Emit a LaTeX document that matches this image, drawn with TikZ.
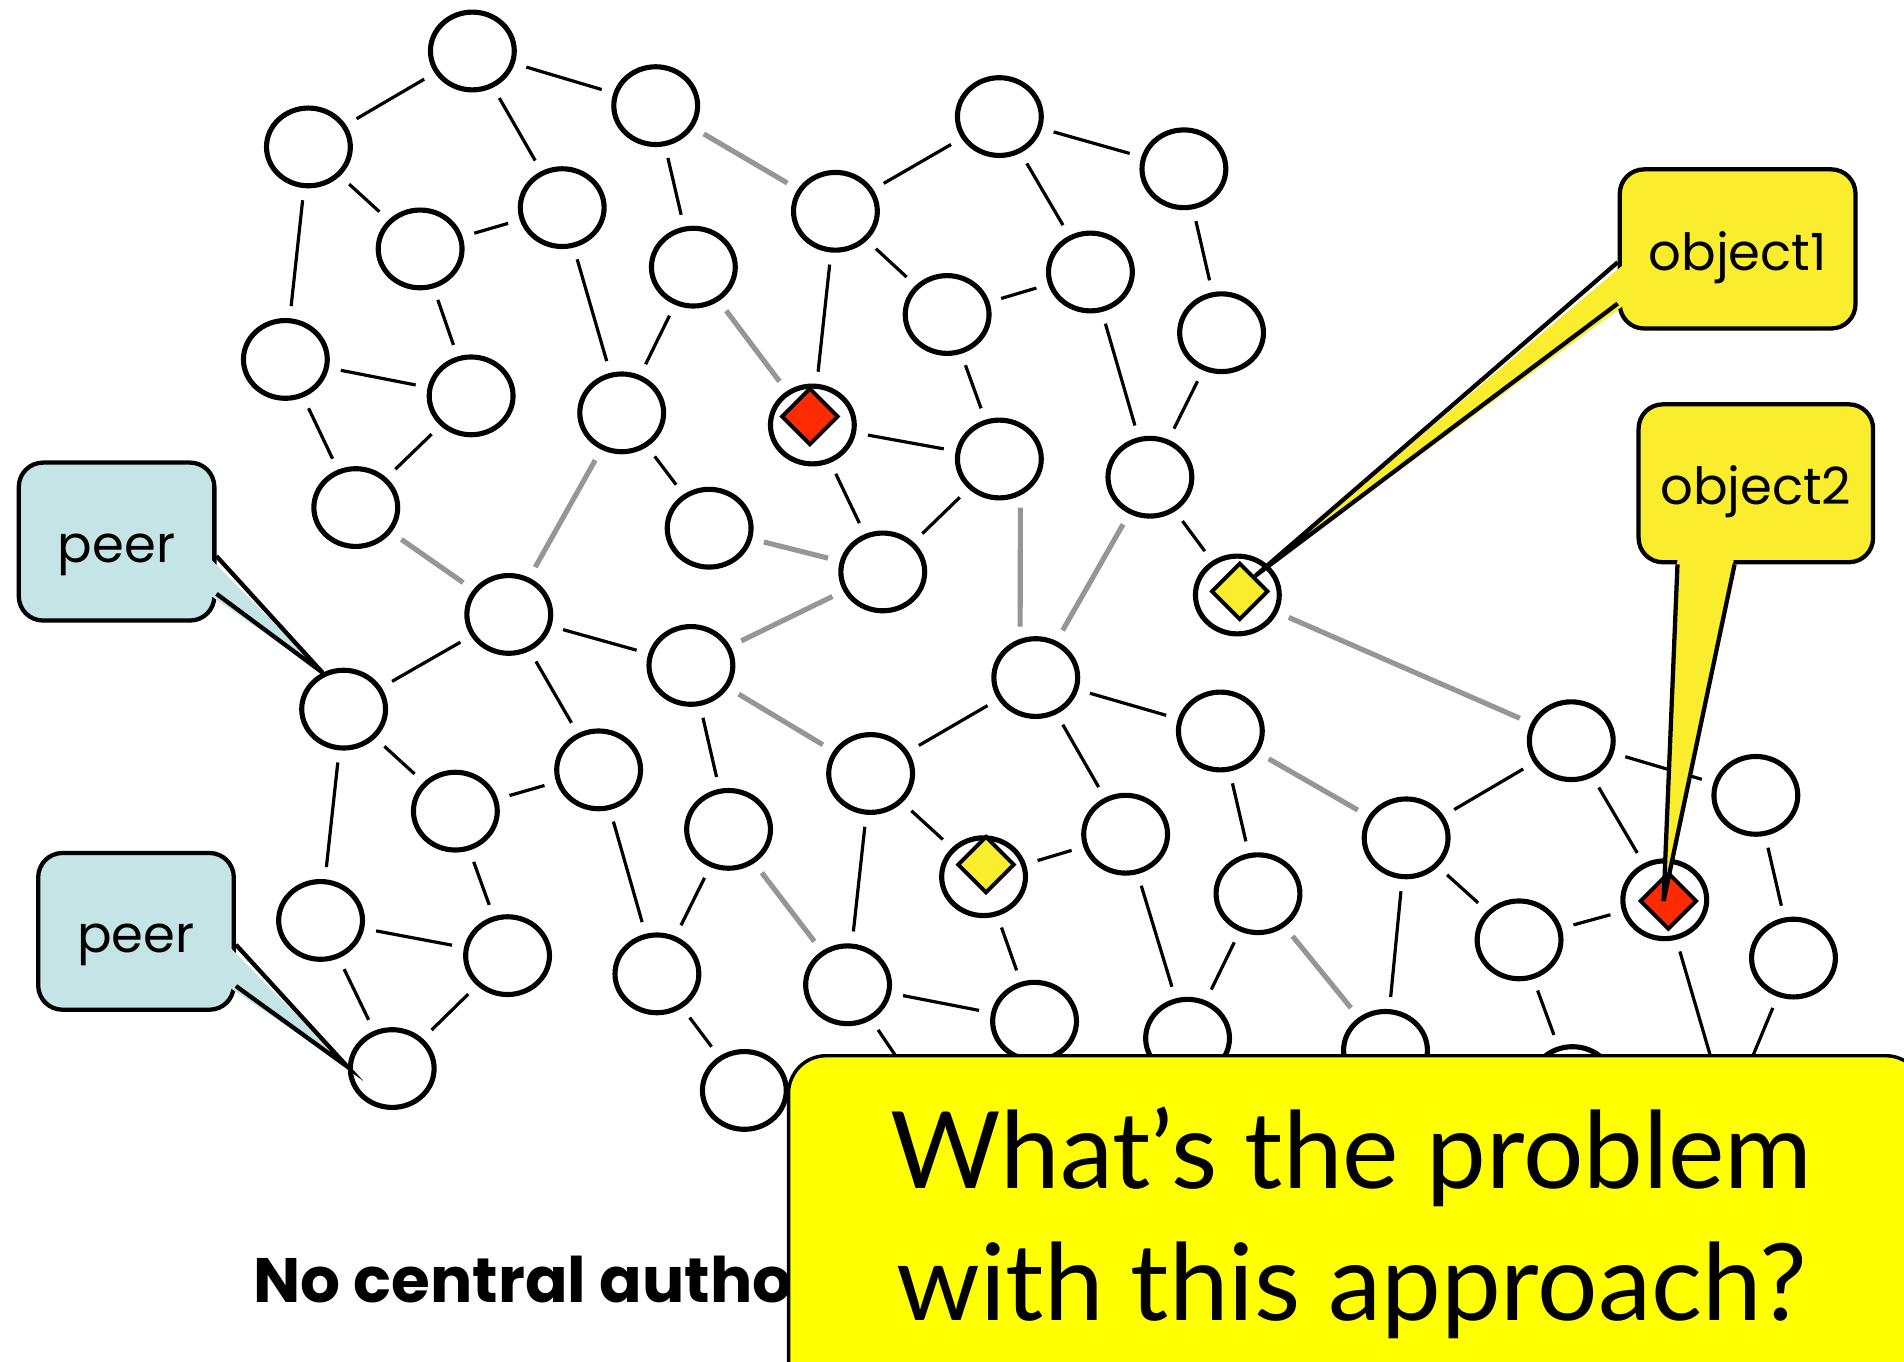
\documentclass[tikz,border=0pt]{standalone}
\usepackage{fontspec}
\setmainfont{Poppins}
\newfontfamily\gillfont{Lato}
\usetikzlibrary{shapes.geometric, positioning}

\definecolor{peerblue}{RGB}{196,228,230}
\definecolor{objyellow}{RGB}{250,237,45}
\definecolor{askyellow}{RGB}{255,255,0}
\definecolor{objred}{RGB}{255,42,0}
\definecolor{linkgray}{RGB}{150,150,150}

\begin{document}
\begin{tikzpicture}[x=0.01cm, y=-0.01cm,
  host/.style={ellipse, draw, line width=1.2pt, minimum width=0.69cm, minimum height=0.64cm, inner sep=0pt, fill=white},
  link/.style={line width=0.75pt, shorten >=0.1cm, shorten <=0.1cm},
  weak/.style={link, draw=linkgray, line width=1.2pt},
  item/.style={diamond, draw, line width=0.9pt, minimum width=0.47cm, minimum height=0.47cm, inner sep=0pt},
  tag/.style={draw, line width=1pt, rounded corners=0.2cm, text height=10pt, text depth=0pt, font=\fontsize{12}{14}\selectfont}
]
\useasboundingbox (0,0) rectangle (1568,1121);

% peers
\foreach \id/\x/\y in {1/389/42, 2/254/121, 3/540/87, 4/463/171, 5/346/205, 6/571/220,
  7/688/174, 8/823/96, 9/975/139, 10/898/224, 11/780/259, 12/1006/274,
  13/235/296, 14/388/326, 15/512/340, 16/669/350, 17/823/378, 18/947/393,
  19/293/418, 20/584/435, 21/727/471, 22/1019/490, 23/419/506, 24/569/548,
  25/853/558, 26/283/584, 27/1005/602, 28/1294/610, 29/493/634, 30/717/637,
  31/1446/655, 32/375/668, 33/600/683, 34/927/687, 35/1158/690, 36/810/722,
  37/1036/736, 38/1371/741, 39/264/758, 40/418/787, 41/1251/774, 42/1477/789,
  43/541/802, 44/698/811, 45/852/841, 46/323/880, 47/978/855, 48/1141/865,
  49/1295/894, 50/613/898, 51/1423/919, 52/765/910}
  \node[host] (n\id) at (\x,\y) {};

% overlay links
\foreach \a/\b in {1/2, 1/3, 1/4, 3/6, 2/5, 5/4, 2/13, 5/14, 4/15, 6/15, 7/16, 7/8,
  7/11, 8/9, 8/10, 11/10, 9/12, 13/14, 13/19, 14/19, 11/17, 10/18, 12/18, 16/17,
  15/20, 16/21, 17/21, 18/22, 23/26, 23/24, 23/29, 26/32, 26/39, 24/33, 25/30,
  25/27, 25/34, 27/37, 28/35, 28/31, 28/38, 29/32, 29/43, 30/36, 30/44, 33/43,
  36/34, 36/45, 34/47, 37/47, 35/41, 35/48, 41/38, 41/49, 31/42, 38/51, 42/51,
  32/40, 39/40, 39/46, 40/46, 43/50, 44/45, 44/52}
  \draw[link] (n\a) -- (n\b);

% long-range links
\foreach \a/\b in {3/7, 6/16, 15/23, 19/23, 20/21, 18/25, 21/24, 22/28,
  24/30, 27/35, 33/44, 37/48}
  \draw[weak] (n\a) -- (n\b);
\draw[weak] (n17.-60) -- (n25.112);

% stored objects
\node[item, fill=objred] (d16) at (667,343) {};
\node[item, fill=objyellow] (d22) at (1021,487) {};
\node[item, fill=objyellow] (d36) at (812,712) {};
\node[item, fill=objred] (d38) at (1374,742) {};

% callouts
\node[tag, fill=peerblue, minimum width=1.61cm, minimum height=1.30cm] (peerA) at (96,446) {peer};
\fill[peerblue] ([xshift=-2pt,yshift=-0.12cm]peerA.east) -- (n26.120) -- ([xshift=-2pt,yshift=-0.43cm]peerA.east) -- cycle;
\draw[line width=1pt] ([yshift=-0.12cm]peerA.east) -- (n26.120) -- ([yshift=-0.43cm]peerA.east);

\node[tag, fill=peerblue, minimum width=1.61cm, minimum height=1.29cm] (peerB) at (112,767) {peer};
\fill[peerblue] ([xshift=-2pt,yshift=-0.11cm]peerB.east) -- (n46.178) -- ([xshift=-2pt,yshift=-0.45cm]peerB.east) -- cycle;
\draw[line width=1pt] ([yshift=-0.11cm]peerB.east) -- (n46.178) -- ([yshift=-0.45cm]peerB.east);

\node[tag, fill=objyellow, minimum width=1.94cm, minimum height=1.31cm] (objA) at (1431,205) {object1};
\fill[objyellow] ([xshift=2pt,yshift=-0.11cm]objA.west) -- (d22.north east) -- ([xshift=2pt,yshift=-0.45cm]objA.west) -- cycle;
\draw[line width=1pt] ([yshift=-0.11cm]objA.west) -- (d22.north east) -- ([yshift=-0.45cm]objA.west);

\node[tag, fill=objyellow, minimum width=1.93cm, minimum height=1.30cm] (objB) at (1446,398) {object2};
\fill[objyellow] ([xshift=-0.645cm,yshift=2pt]objB.south) -- ([xshift=-0.04cm]d38.center) -- ([xshift=-0.175cm,yshift=2pt]objB.south) -- cycle;
\draw[line width=1pt] ([xshift=-0.645cm]objB.south) -- ([xshift=-0.04cm]d38.center) -- ([xshift=-0.175cm]objB.south);

% caption and question
\node[font=\bfseries\fontsize{14.7}{17}\selectfont, anchor=base west, inner sep=0pt] (motto) at (208,1073) {No central autho};

\node[draw, fill=askyellow, line width=0.8pt, rounded corners=0.31cm, anchor=north west,
  minimum width=9.34cm, minimum height=3.2cm] (ask) at (648,868) {};
\node[font=\gillfont\fontsize{25}{31}\selectfont, align=center] (question) at (1113,1007) {What’s the problem\\with this approach?};
\end{tikzpicture}
\end{document}
